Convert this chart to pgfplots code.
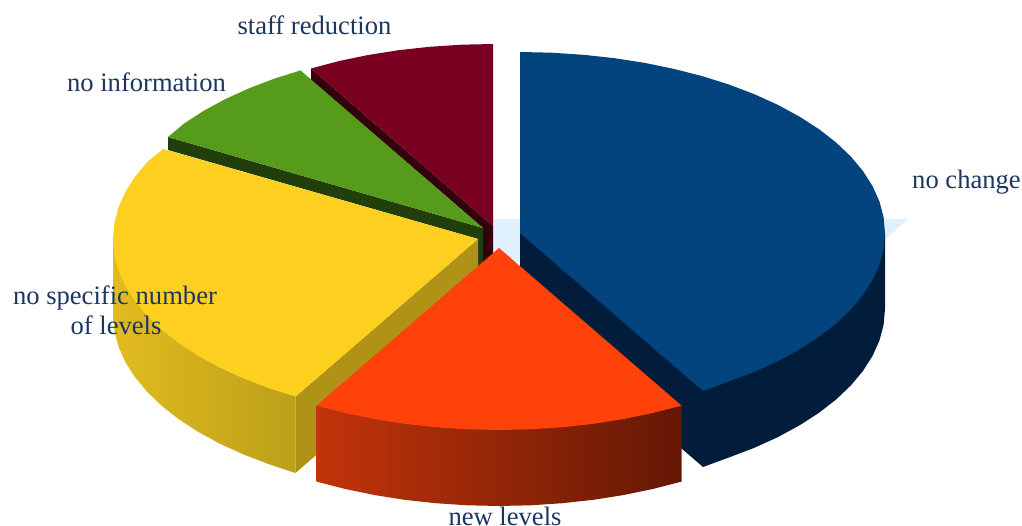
\documentclass[border=0pt]{standalone}
\usepackage{pgfplots}
\pgfplotsset{compat=1.18}
\usepackage{fontspec}
\setmainfont{Liberation Serif}
\definecolor{floorblue}{HTML}{E0F0FC}
\definecolor{blueTop}{HTML}{03447F}
\definecolor{blueWall}{HTML}{011D3B}
\definecolor{maroonTop}{HTML}{7A0022}
\definecolor{maroonWall}{HTML}{33000E}
\definecolor{greenTop}{HTML}{569B1C}
\definecolor{greenWall}{HTML}{223E0B}
\definecolor{yellowTop}{HTML}{FDD01F}
\definecolor{yellowInner}{HTML}{B09216}
\definecolor{yellowL}{HTML}{E2BB20}
\definecolor{yellowR}{HTML}{BCA018}
\definecolor{orangeTop}{HTML}{FF420A}
\definecolor{orangeL}{HTML}{C2340A}
\definecolor{orangeR}{HTML}{641705}
\definecolor{labelcol}{HTML}{1C3660}
\tikzset{lbl/.style={anchor=base, inner sep=0pt, outer sep=0pt, text=labelcol,
    font=\fontsize{26.6}{30}\selectfont}}
\begin{document}
\begin{tikzpicture}
% the page is exactly the plotting area
\path[use as bounding box] (0,0) rectangle (1022pt,526pt);
\begin{axis}[
  at={(0,0)}, anchor=south west,
  scale only axis, width=1022pt, height=526pt,
  xmin=0, xmax=1022, ymin=0, ymax=526, y dir=reverse,
  hide axis, clip=false,
]
% floor band behind the pie
\addplot[fill=floorblue, draw=none] coordinates {(490,219)(908,219)(860,262)(490,262)};

% no change: side wall, then top face
\addplot[fill=blueWall, draw=none] coordinates {(885,233)(885,309)(883.6,324.8)(879.5,340.4)(872.6,355.8)(863,370.9)(850.8,385.5)(836.1,399.5)(819,412.8)(799.6,425.3)(778.1,437)(754.6,447.7)(729.4,457.3)(703,467)(520,309)(520,233)};
\addplot[fill=blueTop, draw=none] coordinates {(520,233)(520,52)(551.8,52.7)(583.4,54.8)(614.5,58.2)(644.8,62.9)(674.2,69)(702.5,76.2)(729.4,84.7)(754.6,94.3)(778.1,105)(799.6,116.7)(819,129.2)(836.1,142.5)(850.8,156.5)(863,171.1)(872.6,186.2)(879.5,201.6)(883.6,217.2)(885,233)(883.6,248.8)(879.5,264.4)(872.6,279.8)(863,294.9)(850.8,309.5)(836.1,323.5)(819,336.8)(799.6,349.3)(778.1,361)(754.6,371.7)(729.4,381.3)(703,391)};

% staff reduction
\addplot[fill=maroonWall, draw=none] coordinates {(311,68.5)(311,80)(483,228)(483,272)(493,272)(493,226)};
\addplot[fill=maroonTop, draw=none] coordinates {(493,226)(493,44)(461.2,44.7)(429.6,46.8)(398.5,50.2)(368.2,55)(338.8,61.1)(311,68.5)};

% no information
\addplot[fill=greenWall, draw=none] coordinates {(168,137)(168,150)(478,239)(478,272)(483,272)(483,228)};
\addplot[fill=greenTop, draw=none] coordinates {(483,228)(300.5,70.4)(273.6,78.9)(248.4,88.6)(224.9,99.3)(203.4,111)(184,123.6)(168,137)};

% no specific number of levels
\addplot[fill=yellowInner, draw=none] coordinates {(478,239)(295.5,396.6)(295.5,473)(478,315)};
\addplot[left color=yellowL, right color=yellowR, draw=none] coordinates {(113,239)(113,315)(114.4,330.9)(118.5,346.6)(125.4,362.1)(135,377.2)(147.2,391.9)(161.9,406)(179,419.4)(198.4,432)(219.9,443.7)(243.4,454.4)(268.6,464.1)(295.5,473)(295.5,396.6)};
\addplot[fill=yellowTop, draw=none] coordinates {(478,239)(163,149)(147.2,162.1)(135,176.8)(125.4,191.9)(118.5,207.4)(114.4,223.1)(113,239)(114.4,254.9)(118.5,270.6)(125.4,286.1)(135,301.2)(147.2,315.9)(161.9,330)(179,343.4)(198.4,356)(219.9,367.7)(243.4,378.4)(268.6,388.1)(295.5,396.6)};

% new levels
\addplot[left color=orangeL, right color=orangeR, draw=none] coordinates {(316.5,405.6)(316.5,481.6)(344.8,488.9)(374.2,495)(404.5,499.8)(435.6,503.2)(467.2,505.3)(499,506)(530.8,505.3)(562.4,503.2)(593.5,499.8)(623.8,495)(653.2,488.9)(681.5,481.6)(681.5,405.6)};
\addplot[fill=orangeTop, draw=none] coordinates {(499,248)(316.5,405.6)(344.8,412.9)(374.2,419)(404.5,423.8)(435.6,427.2)(467.2,429.3)(499,430)(530.8,429.3)(562.4,427.2)(593.5,423.8)(623.8,419)(653.2,412.9)(681.5,405.6)};

% slice labels
\node[lbl] at (axis cs:314.5,35) {staff reduction};
\node[lbl] at (axis cs:146.5,92) {no information};
\node[lbl] at (axis cs:966.5,189) {no change};
\node[lbl] at (axis cs:115,305) {no specific number};
\node[lbl] at (axis cs:116,335) {of levels};
\node[lbl] at (axis cs:505,525) {new levels};
\end{axis}
\end{tikzpicture}
\end{document}
